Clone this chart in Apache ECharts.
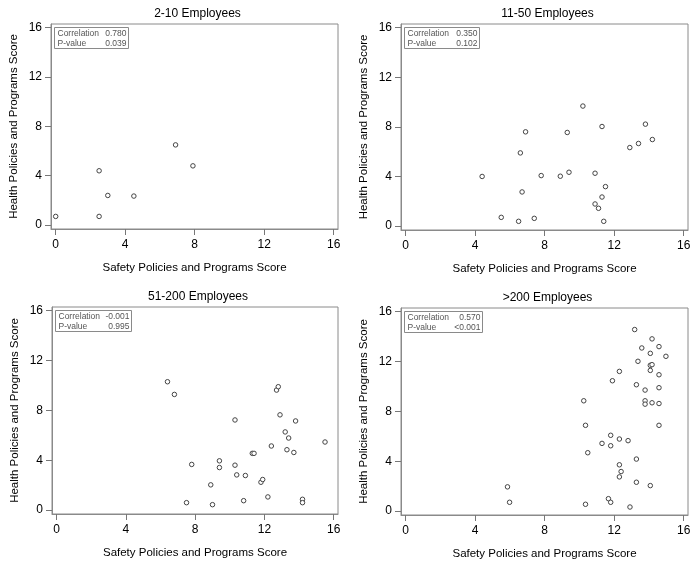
<!DOCTYPE html>
<html>
<head>
<meta charset="utf-8">
<script src="https://cdn.jsdelivr.net/npm/echarts@6/dist/echarts.min.js"></script>
<style>
    html, body { margin: 0; padding: 0; background: #fff; }
    #chart { width: 695px; height: 566px; }
</style>
</head>
<body>
<div id="chart"></div>
<script>
'use strict'

// panel titles and stats
var panelTitles = ['2-10 Employees', '11-50 Employees', '51-200 Employees', '>200 Employees'];
var corrValues = ['0.780', '0.350', '-0.001', '0.570'];
var pValues = ['0.039', '0.102', '0.995', '<0.001'];
var tickValues = [0, 4, 8, 12, 16];

// [safety, health] pairs
var small = [
    [0, 0.7], [2.5, 0.7], [2.5, 4.4], [3.0, 2.4], [4.5, 2.35], [6.9, 6.5], [7.9, 4.8]
];
var medium = [
    [4.4, 4.0], [5.5, 0.7], [6.5, 0.38], [6.6, 5.9], [6.7, 2.75], [6.9, 7.6], [7.4, 0.62],
    [7.8, 4.07], [8.9, 4.02], [9.3, 7.55], [9.4, 4.34], [10.2, 9.68], [10.9, 4.26],
    [10.9, 1.78], [11.1, 1.43], [11.3, 8.03], [11.3, 2.34], [11.5, 3.18], [11.4, 0.38],
    [12.9, 6.33], [13.4, 6.66], [13.8, 8.22], [14.2, 6.98]
];
var large = [
    [6.4, 10.3], [6.8, 9.28], [7.5, 0.59], [7.8, 3.66], [8.9, 2.02], [9.0, 0.43],
    [9.4, 3.95], [9.4, 3.41], [10.3, 7.23], [10.3, 3.6], [10.4, 2.82], [10.8, 0.75],
    [10.9, 2.77], [11.3, 4.55], [11.4, 4.55], [11.8, 2.23], [11.9, 2.45], [12.2, 1.05],
    [12.4, 5.14], [12.7, 9.63], [12.8, 9.9], [12.9, 7.64], [13.2, 6.27], [13.4, 5.78],
    [13.3, 4.84], [13.7, 4.62], [13.8, 7.15], [14.2, 0.86], [14.2, 0.59], [15.5, 5.46]
];
var xlarge = [
    [5.86, 1.94], [5.98, 0.7], [10.25, 8.85], [10.35, 6.88], [10.48, 4.68], [10.35, 0.54],
    [11.3, 5.43], [11.67, 0.99], [11.8, 0.7], [11.9, 10.46], [11.8, 6.08], [11.8, 5.24],
    [12.3, 11.21], [12.3, 5.78], [12.3, 3.71], [12.4, 3.17], [12.3, 2.74], [12.8, 5.65],
    [12.91, 0.32], [13.18, 14.57], [13.28, 10.14], [13.28, 4.17], [13.28, 2.31],
    [13.37, 12.02], [13.59, 13.09], [13.78, 9.71], [13.78, 8.85], [13.78, 8.58],
    [14.08, 12.66], [14.08, 11.7], [14.08, 11.29], [14.18, 13.82], [14.18, 11.75],
    [14.18, 8.69], [14.08, 2.04], [14.58, 13.2], [14.58, 10.94], [14.58, 9.9],
    [14.58, 8.63], [14.58, 6.88], [14.98, 12.42]
];
var panelData = [small, medium, large, xlarge];

var grids = [
    {left: 51, top: 24, width: 287, height: 205},
    {left: 401, top: 24, width: 287, height: 206},
    {left: 52, top: 307, width: 286, height: 207},
    {left: 401, top: 308, width: 287, height: 207}
];
var boxWidths = [74, 75, 76, 78];

var frameColor = '#8a8a8a';
var fontFamily = 'Liberation Sans, Arial, sans-serif';

var myChart = echarts.init(document.getElementById('chart'), null, {renderer: 'canvas'});

var option = {
    animation: false,
    backgroundColor: '#fff',
    title: [],
    grid: [],
    xAxis: [],
    yAxis: [],
    series: [],
    graphic: []
};

for (var i = 0; i < 4; i++) {
    var g = grids[i];
    option.grid.push({
        left: g.left, top: g.top, width: g.width, height: g.height,
        show: true, borderColor: frameColor, borderWidth: 1
    });
    option.title.push({
        text: panelTitles[i],
        left: g.left + g.width / 2 - 2,
        top: g.top - 21,
        textAlign: 'center',
        textStyle: {fontSize: 12, fontWeight: 'normal', color: '#000', fontFamily: fontFamily}
    });
    option.xAxis.push({
        gridIndex: i,
        type: 'value',
        min: -0.27,
        max: 16.25,
        name: 'Safety Policies and Programs Score',
        nameLocation: 'middle',
        nameGap: 33,
        nameTextStyle: {fontSize: 11.5, color: '#000', fontFamily: fontFamily},
        splitLine: {show: false},
        axisLine: {show: true, onZero: false, lineStyle: {color: frameColor}},
        axisTick: {show: true, inside: false, length: 6, lineStyle: {color: '#777', width: 1}, customValues: tickValues},
        axisLabel: {fontSize: 12, color: '#000', margin: 10, fontFamily: fontFamily, customValues: tickValues}
    });
    option.yAxis.push({
        gridIndex: i,
        type: 'value',
        min: -0.32,
        max: 16.3,
        name: 'Health Policies and Programs Score',
        nameLocation: 'middle',
        nameGap: 31,
        nameTextStyle: {fontSize: 11.5, color: '#000', fontFamily: fontFamily},
        splitLine: {show: false},
        axisLine: {show: true, onZero: false, lineStyle: {color: frameColor}},
        axisTick: {show: true, inside: false, length: 6, lineStyle: {color: '#777', width: 1}, customValues: tickValues},
        axisLabel: {fontSize: 12, color: '#000', margin: 9, fontFamily: fontFamily, customValues: tickValues}
    });
    option.series.push({
        type: 'scatter',
        xAxisIndex: i,
        yAxisIndex: i,
        data: panelData[i],
        symbol: 'circle',
        symbolSize: 4.5,
        itemStyle: {color: '#fff', borderColor: '#444', borderWidth: 1, opacity: 1}
    });

    // stats box in the upper left corner
    var bx = g.left + 3, by = g.top + 3, bw = boxWidths[i];
    option.graphic.push({
        type: 'group',
        left: bx,
        top: by,
        children: [
            {type: 'rect', shape: {x: 0, y: 0, width: bw, height: 21}, style: {fill: '#fff', stroke: frameColor, lineWidth: 1}},
            {type: 'text', x: 3, y: 6, style: {text: 'Correlation', fill: '#555', fontSize: 8.5, fontFamily: fontFamily, verticalAlign: 'middle'}},
            {type: 'text', x: bw - 2, y: 6, style: {text: corrValues[i], fill: '#555', fontSize: 8.5, fontFamily: fontFamily, align: 'right', verticalAlign: 'middle'}},
            {type: 'text', x: 3, y: 16, style: {text: 'P-value', fill: '#555', fontSize: 8.5, fontFamily: fontFamily, verticalAlign: 'middle'}},
            {type: 'text', x: bw - 2, y: 16, style: {text: pValues[i], fill: '#555', fontSize: 8.5, fontFamily: fontFamily, align: 'right', verticalAlign: 'middle'}}
        ]
    });
}

myChart.setOption(option);
</script>
</body>
</html>
